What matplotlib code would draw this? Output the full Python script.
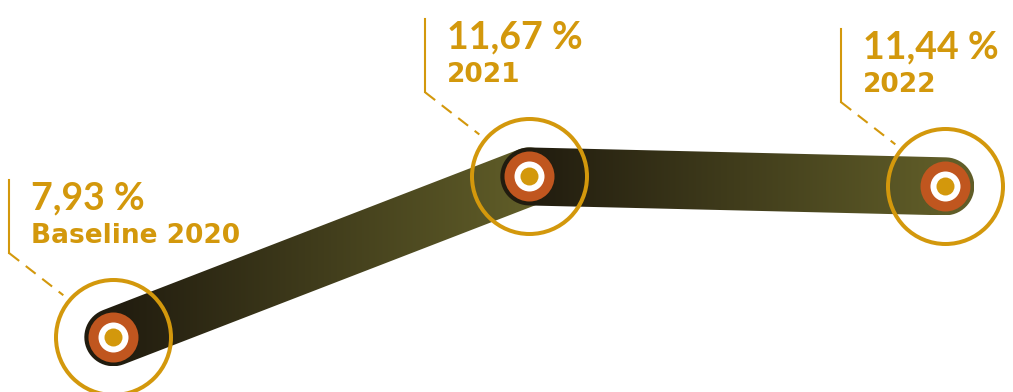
import numpy as np
import matplotlib.pyplot as plt
from matplotlib.patches import Polygon
from matplotlib.colors import LinearSegmentedColormap

years = [2020, 2021, 2022]
rates = [7.93, 11.67, 11.44]
value_labels = ["7,93 %", "11,67 %", "11,44 %"]
year_labels = ["Baseline 2020", "2021", "2022"]

GOLD = "#d3980c"
RUST = "#c0561f"
DARK = "#211c0f"
OLIVE = "#605d28"

XLIM = (2020 - 0.2724, 2022 + 0.1627)
YLIM = (6.656, 15.775)

fig = plt.figure(figsize=(10.13, 3.92), dpi=100)
ax = fig.add_axes([0, 0, 1, 1])
ax.set_xlim(*XLIM)
ax.set_ylim(*YLIM)
ax.axis("off")

band_cmap = LinearSegmentedColormap.from_list("band", [DARK, OLIVE])
half_w = 29  # band half thickness, px


def band_polygon(p0, p1, h, n_arc=30):
    # thick segment with round caps, built in pixel space
    d = (p1 - p0) / np.linalg.norm(p1 - p0)
    ang = np.arctan2(d[1], d[0])
    a1 = np.linspace(ang + np.pi / 2, ang - np.pi / 2, n_arc)
    a0 = np.linspace(ang - np.pi / 2, ang - 3 * np.pi / 2, n_arc)
    cap1 = p1 + h * np.column_stack([np.cos(a1), np.sin(a1)])
    cap0 = p0 + h * np.column_stack([np.cos(a0), np.sin(a0)])
    return np.vstack([cap1, cap0])


pts_px = ax.transData.transform(np.column_stack([years, rates]))
inv = ax.transData.inverted()
grad = np.linspace(0, 1, 256).reshape(1, -1)

for i in range(len(years) - 1):
    poly_data = inv.transform(band_polygon(pts_px[i], pts_px[i + 1], half_w))
    poly = Polygon(poly_data, closed=True, transform=ax.transData,
                   facecolor="none", edgecolor="none")
    ax.add_patch(poly)
    xlo, xhi = poly_data[:, 0].min(), poly_data[:, 0].max()
    ylo, yhi = poly_data[:, 1].min(), poly_data[:, 1].max()
    # gradient runs between the two centres, flat colour on the caps
    pieces = [
        (grad[:, :1], [xlo, years[i]]),
        (grad, [years[i], years[i + 1]]),
        (grad[:, -1:], [years[i + 1], xhi]),
    ]
    for img, (x0, x1) in pieces:
        im = ax.imshow(img, cmap=band_cmap, vmin=0, vmax=1, aspect="auto",
                       interpolation="bicubic", extent=[x0, x1, ylo, yhi],
                       zorder=2 + i)
        im.set_clip_path(poly)

ax.set_xlim(*XLIM)
ax.set_ylim(*YLIM)

# markers: outer ring, rust disc, white ring, gold dot
pt = 72 / 100
ax.plot(years, rates, "o", ms=115 * pt, mfc="none", mec=GOLD, mew=4 * pt, zorder=6)
ax.plot(years, rates, "o", ms=50 * pt, mfc=RUST, mec="none", zorder=7)
ax.plot(years, rates, "o", ms=30 * pt, mfc="white", mec="none", zorder=8)
ax.plot(years, rates, "o", ms=18 * pt, mfc=GOLD, mec="none", zorder=9)

# leader lines and labels, placed relative to each point (px, y up)
for (px, py), val, lab in zip(pts_px, value_labels, year_labels):
    vx, vtop, vbot = px - 104, py + 157, py + 84
    ex, ey = px - 50, py + 42
    ax.plot(*inv.transform([[vx, vtop], [vx, vbot]]).T, color=GOLD, lw=1.5, zorder=5)
    ax.plot(*inv.transform([[vx, vbot], [ex, ey]]).T, color=GOLD, lw=1.5,
            dashes=(6, 4), zorder=5)
    tx, ty = inv.transform([px - 82, py + 128])
    ax.text(tx, ty, val, color=GOLD, fontsize=27, fontweight="bold",
            family="Lato", va="baseline", ha="left", zorder=10)
    sx, sy = inv.transform([px - 82, py + 94])
    ax.text(sx, sy, lab, color=GOLD, fontsize=19, fontweight="bold",
            family="DejaVu Sans", va="baseline", ha="left", zorder=10)

fig.savefig("out.png", dpi=100, facecolor="white")
